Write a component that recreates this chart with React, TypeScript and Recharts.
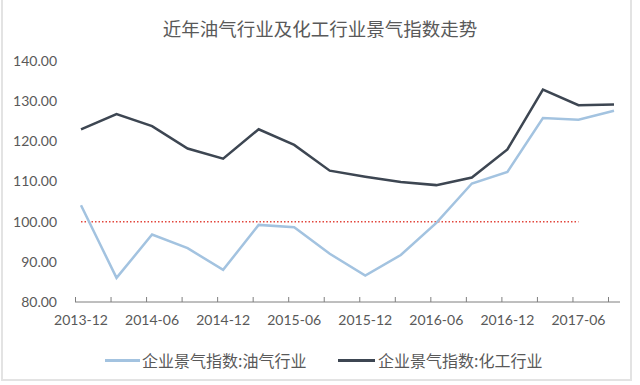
import React from "react";
import { LineChart, Line, XAxis, YAxis } from "recharts";

const categories = [
  "2013-12", "2014-03", "2014-06", "2014-09", "2014-12", "2015-03", "2015-06", "2015-09",
  "2015-12", "2016-03", "2016-06", "2016-09", "2016-12", "2017-03", "2017-06", "2017-09",
];
const oilIndex = [104.1, 86.0, 96.8, 93.4, 88.0, 99.2, 98.6, 92.0, 86.6, 91.7, 99.7, 109.5, 112.4, 125.8, 125.4, 127.6];
const chemIndex = [123.0, 126.8, 123.8, 118.2, 115.7, 123.0, 119.1, 112.7, 111.2, 109.9, 109.1, 111.0, 118.0, 132.9, 129.0, 129.2];
const baseline = [100, 100, 100, 100, 100, 100, 100, 100, 100, 100, 100, 100, 100, 100, 100, null];
const yTicks = [80, 90, 100, 110, 120, 130, 140];

const title = "近年油气行业及化工行业景气指数走势";
const oilName = "企业景气指数:油气行业";
const chemName = "企业景气指数:化工行业";

const OIL_COLOR = "#a3c3e0";
const CHEM_COLOR = "#3d4652";
const TEXT_COLOR = "#595959";
const FONT = "Lato, 'Noto Sans CJK SC', sans-serif";
const CJK = "'Noto Sans CJK SC', sans-serif";

const data = categories.map((c, i) => ({
  cat: c,
  oil: oilIndex[i],
  chem: chemIndex[i],
  base: baseline[i],
}));

const TICK_MARGIN = 13;

const XTick = (props: any) => {
  const { x, y, index, payload } = props;
  const axisY = y - TICK_MARGIN;
  return (
    <g>
      <line x1={x - 5.5} x2={x - 5.5} y1={axisY} y2={axisY - 5} stroke="#7f7f7f" strokeWidth={1} />
      {index % 2 === 0 ? (
        <text x={x} y={y} dy="0.71em" textAnchor="middle" fill={TEXT_COLOR} fontSize={14} fontFamily={FONT}>
          {payload.value}
        </text>
      ) : null}
    </g>
  );
};

export default function App() {
  return (
    <div style={{ position: "absolute", left: 0, top: 0, width: 640, height: 385, background: "#fff" }}>
      <div
        style={{
          position: "absolute",
          left: 1,
          top: -2,
          width: 631,
          height: 383,
          border: "2px solid #e3e3e3",
          boxSizing: "border-box",
        }}
      />
      <div
        style={{
          position: "absolute",
          left: 0,
          top: 16,
          width: 640,
          textAlign: "center",
          fontFamily: CJK,
          fontSize: 18.5,
          lineHeight: "24px",
          color: TEXT_COLOR,
        }}
      >
        {title}
      </div>
      <LineChart
        width={640}
        height={385}
        data={data}
        margin={{ top: 61, right: 20, left: 0, bottom: 53 }}
      >
        <XAxis
          dataKey="cat"
          interval={0}
          tick={<XTick />}
          tickLine={false}
          tickSize={0}
          tickMargin={TICK_MARGIN}
          height={30}
          padding={{ left: 6, right: 6 }}
          axisLine={{ stroke: "#7f7f7f", strokeWidth: 1 }}
        />
        <YAxis
          domain={[80, 140]}
          ticks={yTicks}
          interval={0}
          width={75}
          axisLine={false}
          tickLine={false}
          tickSize={0}
          tickMargin={18}
          tickFormatter={(v: number) => v.toFixed(2)}
          tick={{ fill: TEXT_COLOR, fontSize: 14, fontFamily: FONT }}
        />
        <Line
          dataKey="base"
          stroke="#e2463c"
          strokeWidth={1.5}
          strokeDasharray="1.5 2"
          dot={false}
          isAnimationActive={false}
          connectNulls={false}
        />
        <Line dataKey="oil" stroke={OIL_COLOR} strokeWidth={2.5} dot={false} isAnimationActive={false} />
        <Line dataKey="chem" stroke={CHEM_COLOR} strokeWidth={2.5} dot={false} isAnimationActive={false} />
      </LineChart>
      <div
        style={{
          position: "absolute",
          left: 0,
          top: 348,
          width: 640,
          height: 24,
          fontFamily: CJK,
          fontSize: 16,
          color: TEXT_COLOR,
        }}
      >
        <div style={{ position: "absolute", left: 105, top: 11, width: 35, height: 3, background: OIL_COLOR }} />
        <div style={{ position: "absolute", left: 142, top: 0, lineHeight: "24px", whiteSpace: "nowrap" }}>{oilName}</div>
        <div style={{ position: "absolute", left: 338, top: 11, width: 37, height: 3, background: CHEM_COLOR }} />
        <div style={{ position: "absolute", left: 378, top: 0, lineHeight: "24px", whiteSpace: "nowrap" }}>{chemName}</div>
      </div>
    </div>
  );
}
